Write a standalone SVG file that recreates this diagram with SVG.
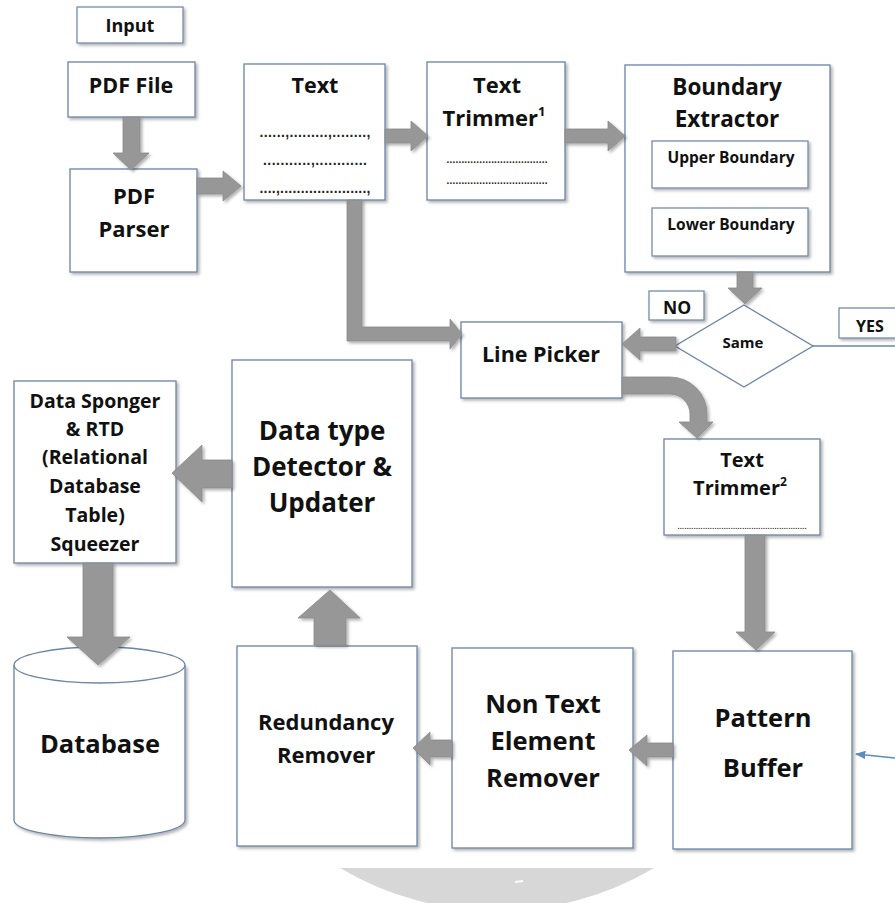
<svg xmlns="http://www.w3.org/2000/svg" width="895" height="903" viewBox="0 0 895 903">
  <defs>
    <filter id="shadow" x="-10%" y="-10%" width="130%" height="130%">
      <feDropShadow dx="2" dy="2" stdDeviation="1.5" flood-color="#000" flood-opacity="0.3"/>
    </filter>
    <marker id="thinHead" viewBox="0 0 10 10" refX="9" refY="5" markerWidth="8" markerHeight="8" orient="auto">
      <path d="M0,1 L10,5 L0,9 Z" fill="#5b8cc0"/>
    </marker>
    <style>
      .box { fill: #ffffff; stroke: #6a84a6; stroke-width: 1.3; filter: url(#shadow); }
      .inner { fill: #ffffff; stroke: #6a84a6; stroke-width: 1.2; filter: url(#shadow); }
      .lbl { font-family: "Open Sans", "Liberation Sans", sans-serif; font-weight: bold; fill: #111111; text-anchor: middle; }
      .dots { font-family: "Liberation Sans", sans-serif; font-weight: bold; fill: #222222; text-anchor: middle; }
      .arrow { fill: #979797; stroke: #8a8a8a; stroke-width: 0.8; filter: url(#shadow); }
      .thin { fill: none; stroke: #6a84a6; stroke-width: 1.3; }
    </style>
  </defs>
  <rect width="895" height="903" fill="#ffffff"/>

  <!-- decorative bowl at the bottom edge -->
  <path d="M340,868 A308,308 0 0 0 654,868 Z" fill="#d7d7d7"/>
  <line x1="515" y1="882" x2="523" y2="881" stroke="#ffffff" stroke-width="2"/>

  <g id="input">
    <rect class="inner" x="77" y="7" width="106" height="36"/>
    <text class="lbl" x="130" y="32" font-size="18">Input</text>
  </g>

  <g id="pdf-file">
    <rect class="box" x="68" y="62" width="127" height="55"/>
    <text class="lbl" x="131" y="93" font-size="21.5">PDF File</text>
  </g>

  <g id="pdf-parser">
    <rect class="box" x="70" y="169" width="127" height="103"/>
    <text class="lbl" x="134" y="204" font-size="22">PDF</text>
    <text class="lbl" x="134" y="237" font-size="22">Parser</text>
  </g>

  <g id="text">
    <rect class="box" x="244" y="64" width="141" height="136"/>
    <text class="lbl" x="315" y="93" font-size="21.5">Text</text>
    <text class="dots" x="315" y="137" font-size="14" textLength="111" lengthAdjust="spacing">......,.........,........,</text>
    <text class="dots" x="315" y="165" font-size="14" textLength="104" lengthAdjust="spacing">...........,............</text>
    <text class="dots" x="315" y="193" font-size="14" textLength="111" lengthAdjust="spacing">....,.....................,</text>
  </g>

  <g id="text-trimmer-1">
    <rect class="box" x="427" y="62" width="138" height="138"/>
    <text class="lbl" x="497" y="93" font-size="22">Text</text>
    <text class="lbl" x="494" y="126" font-size="22">Trimmer<tspan font-size="13" dy="-10">1</tspan></text>
    <text class="dots" x="497" y="163" font-size="10" textLength="101" lengthAdjust="spacing">..................................</text>
    <text class="dots" x="497" y="184" font-size="10" textLength="101" lengthAdjust="spacing">..................................</text>
  </g>

  <g id="boundary-extractor">
    <rect class="box" x="625" y="65" width="205" height="207"/>
    <text class="lbl" x="727" y="95" font-size="22.5">Boundary</text>
    <text class="lbl" x="727" y="127" font-size="22.5">Extractor</text>
    <g id="upper-boundary">
      <rect class="inner" x="652" y="141" width="156" height="47"/>
      <text class="lbl" x="731" y="163" font-size="15.5">Upper Boundary</text>
    </g>
    <g id="lower-boundary">
      <rect class="inner" x="652" y="208" width="156" height="48"/>
      <text class="lbl" x="731" y="230" font-size="15.5">Lower Boundary</text>
    </g>
  </g>

  <g id="no-label">
    <rect class="inner" x="649" y="291" width="55" height="29"/>
    <text class="lbl" x="677" y="314" font-size="17.5">NO</text>
  </g>

  <g id="same">
    <polygon points="744,305 813,346 744,387 675,346" fill="#ffffff" stroke="#6a84a6" stroke-width="1.3"/>
    <text class="lbl" x="743" y="348" font-size="15">Same</text>
  </g>

  <g id="yes-label">
    <rect class="inner" x="839" y="308" width="70" height="30"/>
    <text class="lbl" x="870" y="332" font-size="16">YES</text>
  </g>

  <g id="line-picker">
    <rect class="box" x="461" y="322" width="161" height="76"/>
    <text class="lbl" x="541" y="362" font-size="21.5">Line Picker</text>
  </g>

  <g id="text-trimmer-2">
    <rect class="box" x="664" y="439" width="156" height="96"/>
    <text class="lbl" x="742" y="467" font-size="20">Text</text>
    <text class="lbl" x="740" y="495" font-size="20">Trimmer<tspan font-size="12" dy="-9">2</tspan></text>
    <text class="dots" x="742" y="529" font-size="7" textLength="129" lengthAdjust="spacing">........................................................</text>
  </g>

  <g id="pattern-buffer">
    <rect class="box" x="673" y="651" width="179" height="198"/>
    <text class="lbl" x="763" y="727" font-size="25.5">Pattern</text>
    <text class="lbl" x="763" y="777" font-size="25.5">Buffer</text>
  </g>

  <g id="non-text-element-remover">
    <rect class="box" x="452" y="648" width="181" height="200"/>
    <text class="lbl" x="543" y="713" font-size="25.5">Non Text</text>
    <text class="lbl" x="543" y="750" font-size="25.5">Element</text>
    <text class="lbl" x="543" y="787" font-size="25.5">Remover</text>
  </g>

  <g id="redundancy-remover">
    <rect class="box" x="237" y="646" width="180" height="200"/>
    <text class="lbl" x="326" y="730" font-size="22">Redundancy</text>
    <text class="lbl" x="326" y="763" font-size="22">Remover</text>
  </g>

  <g id="data-type-detector">
    <rect class="box" x="232" y="360" width="180" height="227"/>
    <text class="lbl" x="322" y="440" font-size="26">Data type</text>
    <text class="lbl" x="322" y="476" font-size="26">Detector &amp;</text>
    <text class="lbl" x="322" y="512" font-size="26">Updater</text>
  </g>

  <g id="data-sponger">
    <rect class="box" x="14" y="381" width="162" height="182"/>
    <text class="lbl" x="95" y="408" font-size="19.5">Data Sponger</text>
    <text class="lbl" x="95" y="436" font-size="19.5">&amp; RTD</text>
    <text class="lbl" x="95" y="464" font-size="19.5">(Relational</text>
    <text class="lbl" x="95" y="493" font-size="19.5">Database</text>
    <text class="lbl" x="95" y="522" font-size="19.5">Table)</text>
    <text class="lbl" x="95" y="551" font-size="19.5">Squeezer</text>
  </g>

  <g id="database">
    <path d="M14,665 V820 A85.5,18 0 0 0 185,820 V665" fill="#ffffff" stroke="#6a84a6" stroke-width="1.3" filter="url(#shadow)"/>
    <ellipse cx="99.5" cy="665" rx="85.5" ry="18" fill="#ffffff" stroke="#6a84a6" stroke-width="1.3"/>
    <text class="lbl" x="100" y="753" font-size="25.5">Database</text>
  </g>

  <!-- block arrows and thin links between the stages -->
  <g id="connectors">
    <polygon class="arrow" points="123,117 140,117 140,153 149,153 131,170 113,153 123,153"/>
    <polygon class="arrow" points="197,178 223,178 223,171 241,186 223,201 223,194 197,194"/>
    <polygon class="arrow" points="385,129 411,129 411,121 428,136 411,151 411,143 385,143"/>
    <polygon class="arrow" points="565,129 608,129 608,121 625,136 608,151 608,143 565,143"/>
    <polygon class="arrow" points="737,272 753,272 753,288 762,288 745,304 728,288 737,288"/>
    <polygon class="arrow" points="347,200 362,200 362,327 450,327 450,319 462,334 450,349 450,341 347,341"/>
    <polygon class="arrow" points="676,337 640,337 640,328 622,344 640,360 640,351 676,351"/>
    <path class="arrow" d="M622,377 H670 A37,37 0 0 1 707,414 V422 H713 L697,438 L679,422 H690 V414 A20,20 0 0 0 670,394 H622 Z"/>
    <polygon class="arrow" points="745,535 765,535 765,632 775,632 756,650 736,632 745,632"/>
    <polygon class="arrow" points="673,743 647,743 647,735 629,750 647,766 647,757 673,757"/>
    <polygon class="arrow" points="452,740 430,740 430,732 413,748 430,765 430,757 452,757"/>
    <polygon class="arrow" points="314,645 346,645 346,618 360,618 330,590 298,618 314,618"/>
    <polygon class="arrow" points="232,460 202,460 202,445 172,473 202,502 202,488 232,488"/>
    <polygon class="arrow" points="83,563 113,563 113,637 130,637 98,665 67,637 83,637"/>
    <line class="thin" x1="813" y1="346" x2="895" y2="346"/>
    <line x1="895" y1="758" x2="856" y2="754" stroke="#5b8cc0" stroke-width="1.3" marker-end="url(#thinHead)"/>
  </g>
</svg>
